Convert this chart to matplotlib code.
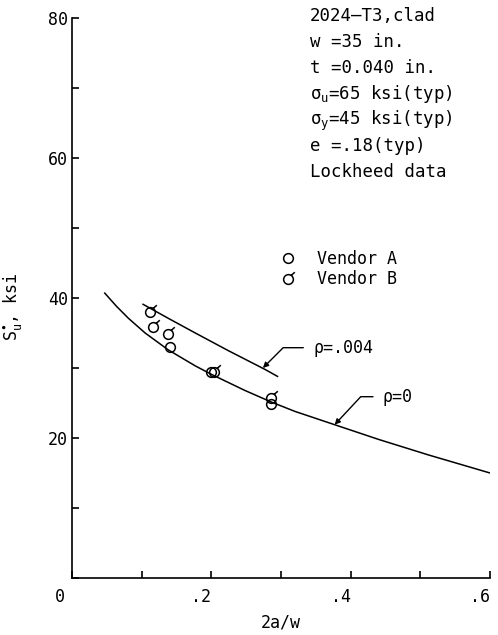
import matplotlib

matplotlib.use("Agg")

import matplotlib.pyplot as plt
from matplotlib.path import Path

plt.rcParams["font.family"] = ["DejaVu Sans Mono", "DejaVu Sans"]
plt.rcParams["mathtext.fontset"] = "custom"
plt.rcParams["mathtext.rm"] = "DejaVu Sans Mono"
plt.rcParams["mathtext.it"] = "DejaVu Sans Mono"

# residual strength curves, S_u* (ksi) vs 2a/w
rho0_x = [0.047, 0.064, 0.081, 0.105, 0.138, 0.177, 0.200, 0.248, 0.287,
          0.320, 0.377, 0.440, 0.511, 0.600]
rho0_y = [40.7, 38.8, 37.1, 35.0, 32.6, 30.3, 29.1, 26.8, 25.1,
          23.8, 21.9, 19.8, 17.6, 15.0]
rho004_x = [0.102, 0.140, 0.177, 0.224, 0.277, 0.295]
rho004_y = [39.1, 37.0, 35.0, 32.5, 29.8, 28.8]

# test points
vendor_a_x = [0.141, 0.199, 0.285]
vendor_a_y = [33.0, 29.4, 24.9]
vendor_b_x = [0.112, 0.116, 0.138, 0.204, 0.285]
vendor_b_y = [38.0, 35.9, 34.9, 29.4, 25.7]

notes = [
    "2024\u2014T3,clad",
    "w =35 in.",
    "t =0.040 in.",
    "\u03c3$_u$=65 ksi(typ)",
    "\u03c3$_y$=45 ksi(typ)",
    "e =.18(typ)",
    "Lockheed data",
]

xticks = [0, 0.1, 0.2, 0.3, 0.4, 0.5, 0.6]
xticklabels = ["", "", ".2", "", ".4", "", ".6"]
yticks = [0, 10, 20, 30, 40, 50, 60, 70, 80]
yticklabels = ["", "", "20", "", "40", "", "60", "", "80"]

# circle with a little tail for vendor B
tail_marker = Path.make_compound_path(
    Path.unit_circle(),
    Path([[0.55, 0.84], [1.3, 1.5]], [Path.MOVETO, Path.LINETO]),
)

fig = plt.figure(figsize=(4.98, 6.35), dpi=100)
ax = fig.add_axes([72 / 498, 1 - 578 / 635, 418 / 498, 560 / 635])

ax.plot(rho0_x, rho0_y, color="black", lw=1.1)
ax.plot(rho004_x, rho004_y, color="black", lw=1.1)
ax.plot(vendor_a_x, vendor_a_y, ls="none", marker="o", ms=7, mfc="none",
        mec="black", mew=1.1, label="Vendor A")
ax.plot(vendor_b_x, vendor_b_y, ls="none", marker=tail_marker, ms=10.5,
        mfc="none", mec="black", mew=1.1, label="Vendor B")

arrow = dict(arrowstyle="-|>", color="black", lw=1.0, mutation_scale=8,
             relpos=(0, 0.5), shrinkA=5, shrinkB=0)
ax.annotate("\u03c1=.004", xy=(0.274, 30.0), xytext=(0.346, 32.9),
            ha="left", va="center", fontsize=12,
            arrowprops=dict(arrow, connectionstyle="angle,angleA=0,angleB=45"))
ax.annotate("\u03c1=0", xy=(0.377, 21.9), xytext=(0.446, 25.9),
            ha="left", va="center", fontsize=12,
            arrowprops=dict(arrow, connectionstyle="angle,angleA=0,angleB=47"))

ax.set_xlim(0, 0.6)
ax.set_ylim(0, 80)
ax.spines[["top", "right"]].set_visible(False)
ax.spines[["left", "bottom"]].set_linewidth(1.2)
ax.set_xticks(xticks, xticklabels, fontsize=12)
ax.set_yticks(yticks, yticklabels, fontsize=12)
for lab in ax.get_xticklabels():
    lab.set_horizontalalignment("right")
ax.tick_params(direction="in", length=5, width=1.2)
ax.tick_params(axis="x", pad=7)
ax.tick_params(axis="y", pad=3)
ax.text(-0.029, -0.034, "0", transform=ax.transAxes, ha="center",
        va="center", fontsize=12)

ax.set_xlabel("2a/w", fontsize=12)
ax.xaxis.set_label_coords(0.5, -0.064)
ax.set_ylabel(r"S$_u^{\bullet}$, ksi", fontsize=12)
ax.yaxis.set_label_coords(-0.115, 0.484)

for i, line in enumerate(notes):
    fig.text(310 / 498, 1 - (21 + 26 * i) / 635, line, fontsize=12.5,
             ha="left", va="baseline")

ax.legend(loc="upper left", bbox_to_anchor=(280 / 498, 1 - 250 / 635),
          bbox_transform=fig.transFigure, frameon=False, fontsize=12,
          handlelength=1, handletextpad=1.2, labelspacing=0.15,
          borderpad=0, borderaxespad=0)

fig.savefig("out.png", dpi=100)
plt.close(fig)
